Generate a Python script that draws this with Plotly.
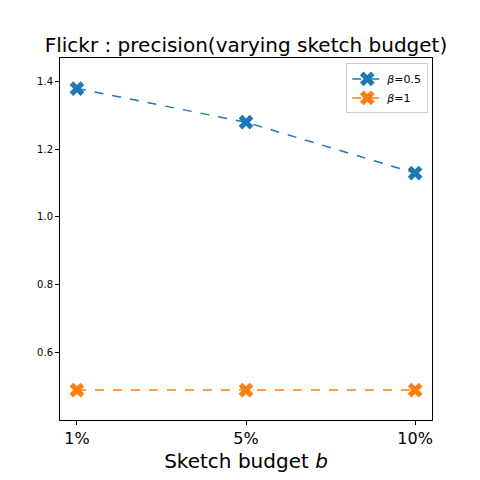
import plotly.graph_objects as go

# data
budgets = ["1%", "5%", "10%"]
beta_05 = [1.378, 1.279, 1.129]
beta_1 = [0.49, 0.49, 0.49]

series = [
    ("<i>β</i>=0.5", beta_05, "#1f77b4"),
    ("<i>β</i>=1", beta_1, "#ff7f0e"),
]

FONT = "DejaVu Sans"

fig = go.Figure()
for label, vals, color in series:
    fig.add_trace(go.Scatter(
        x=[0, 1, 2], y=vals, name=label,
        mode="lines+markers",
        line=dict(color=color, width=1.5, dash="dash"),
        marker=dict(symbol="x", size=13, color=color, line=dict(width=0)),
    ))

# page body adds an 8px offset, so margins are shifted to compensate
fig.update_layout(
    width=480, height=480,
    margin=dict(l=52, r=56, t=50, b=68),
    plot_bgcolor="white", paper_bgcolor="white",
    font=dict(family=FONT, color="black"),
    title=dict(
        text="Flickr : precision(varying sketch budget)",
        x=0.5, xref="paper", xanchor="center",
        y=1 - 37 / 480, yref="container", yanchor="middle",
        font=dict(size=20, family=FONT, color="black"),
    ),
    legend=dict(
        x=0.99, y=0.985, xanchor="right", yanchor="top",
        bordercolor="#cccccc", borderwidth=1, bgcolor="white",
        font=dict(size=11, family=FONT),
    ),
    showlegend=True,
)
fig.update_xaxes(
    range=[-0.1, 2.1],
    tickvals=[0, 1, 2], ticktext=budgets,
    tickfont=dict(size=16),
    ticks="outside", ticklen=4, tickcolor="black",
    showline=True, linecolor="black", linewidth=1, mirror=True,
    showgrid=False, zeroline=False,
    title=dict(text="Sketch budget <i>b</i>", font=dict(size=20), standoff=6),
)
fig.update_yaxes(
    range=[0.402, 1.468],
    tickvals=[0.6, 0.8, 1.0, 1.2, 1.4],
    ticktext=["0.6", "0.8", "1.0", "1.2", "1.4"],
    tickfont=dict(size=10),
    ticks="outside", ticklen=4, tickcolor="black",
    showline=True, linecolor="black", linewidth=1, mirror=True,
    showgrid=False, zeroline=False,
)

fig.write_html("out.html")
